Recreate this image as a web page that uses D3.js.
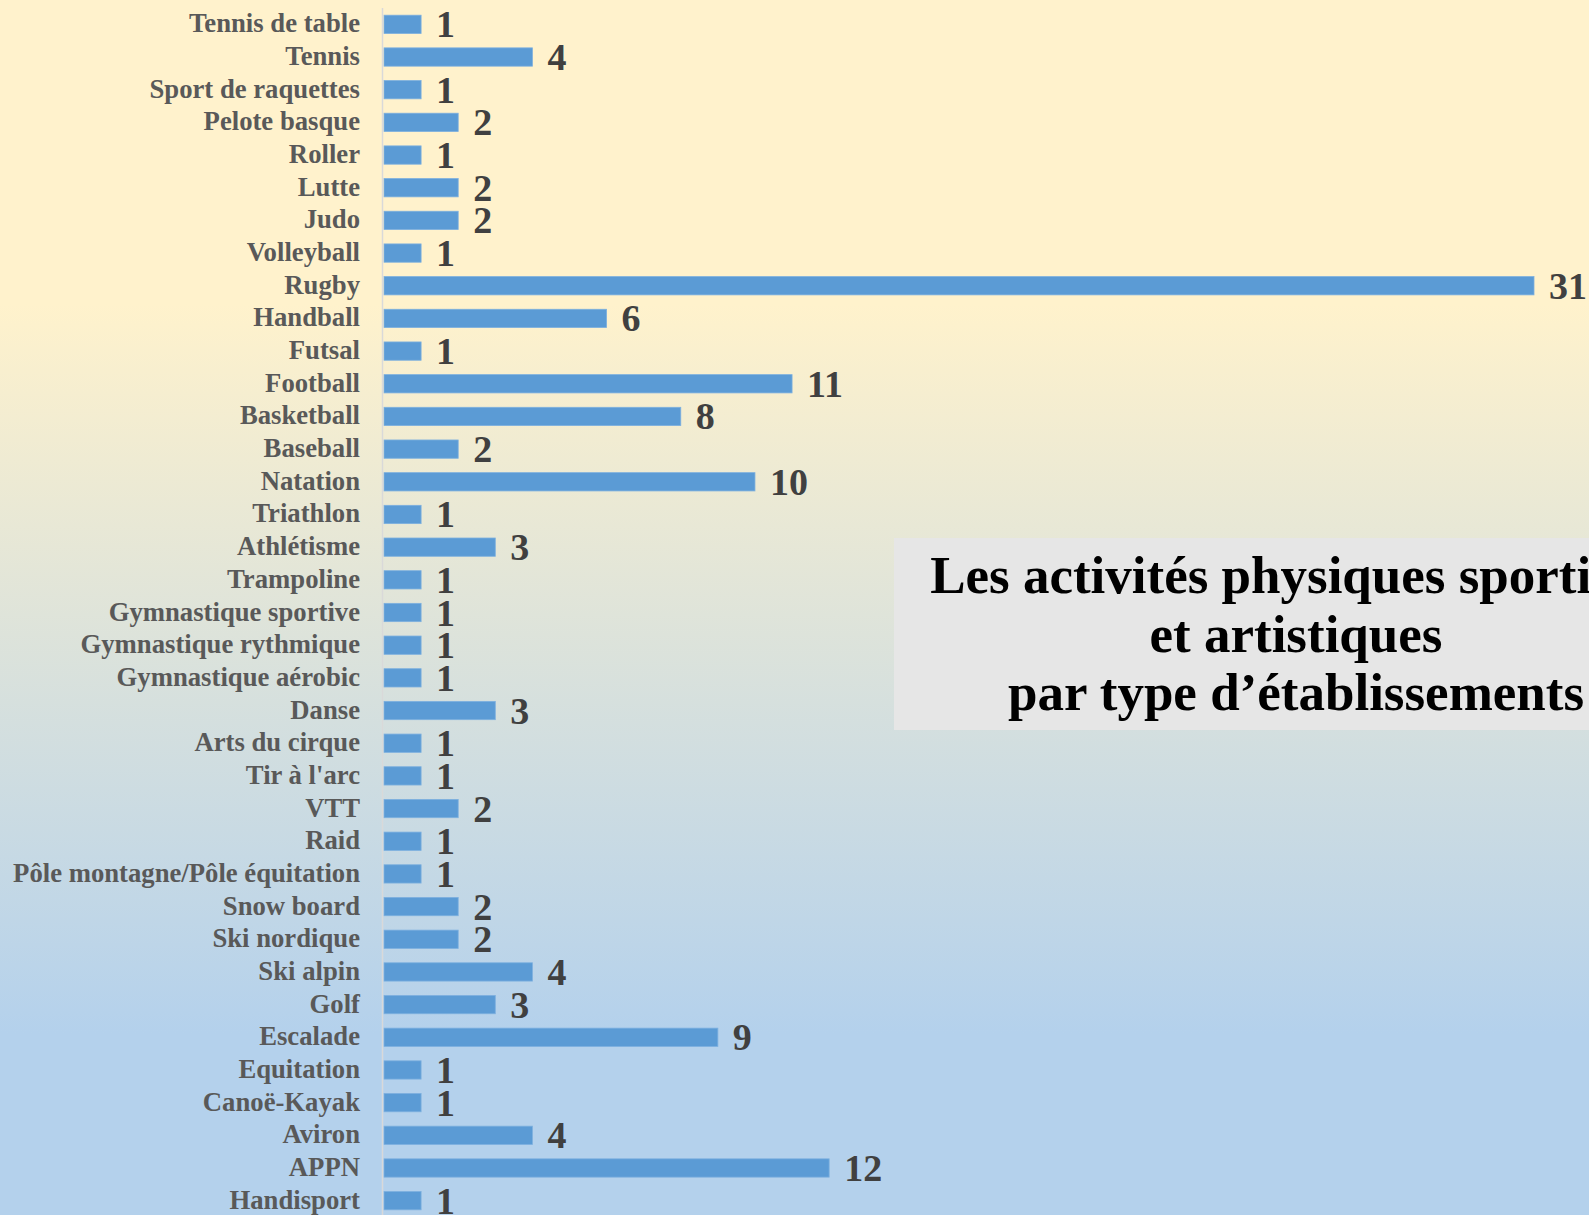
<!DOCTYPE html>
<html>
<head>
<meta charset="utf-8">
<script src="https://cdn.jsdelivr.net/npm/d3@7.9.0/dist/d3.min.js"></script>
<style>
  html, body { margin: 0; padding: 0; overflow: hidden; }
  svg { display: block; }
</style>
</head>
<body>
<svg id="viz"></svg>
<script>
const W = 1589;
const H = 1215;

// Data
const categories = [
  "Tennis de table", "Tennis", "Sport de raquettes", "Pelote basque", "Roller",
  "Lutte", "Judo", "Volleyball", "Rugby", "Handball", "Futsal", "Football",
  "Basketball", "Baseball", "Natation", "Triathlon", "Athlétisme", "Trampoline",
  "Gymnastique sportive", "Gymnastique rythmique", "Gymnastique aérobic", "Danse",
  "Arts du cirque", "Tir à l'arc", "VTT", "Raid", "Pôle montagne/Pôle équitation",
  "Snow board", "Ski nordique", "Ski alpin", "Golf", "Escalade", "Equitation",
  "Canoë-Kayak", "Aviron", "APPN", "Handisport"
];
const values = [
  1, 4, 1, 2, 1,
  2, 2, 1, 31, 6, 1, 11,
  8, 2, 10, 1, 3, 1,
  1, 1, 1, 3,
  1, 1, 2, 1, 1,
  2, 2, 4, 3, 9, 1,
  1, 4, 12, 1
];
const titleLines = [
  "Les activités physiques sportives",
  "et artistiques",
  "par type d’établissements"
];

const rows = categories.map((c, i) => ({ name: c, value: values[i] }));

const svg = d3.select("#viz").attr("width", W).attr("height", H);

// Background gradient
const defs = svg.append("defs");
const grad = defs.append("linearGradient")
  .attr("id", "bg")
  .attr("x1", 0).attr("y1", 0).attr("x2", 0).attr("y2", 1);
grad.append("stop").attr("offset", "0%").attr("stop-color", "#FFF2CC");
grad.append("stop").attr("offset", "25%").attr("stop-color", "#FFF2CC");
grad.append("stop").attr("offset", "85%").attr("stop-color", "#B4D1EC");
grad.append("stop").attr("offset", "100%").attr("stop-color", "#B4D1EC");

svg.append("rect")
  .attr("width", W).attr("height", H)
  .attr("fill", "url(#bg)");

// Scales
const x = d3.scaleLinear().domain([0, 31]).range([384, 1534]);
const y = d3.scaleBand()
  .domain(categories)
  .range([8, 1217])
  .paddingInner(0.44)
  .paddingOuter(0.22);

// Bars
svg.append("g")
  .selectAll("rect")
  .data(rows)
  .join("rect")
  .attr("x", x(0))
  .attr("y", (d) => y(d.name))
  .attr("width", (d) => x(d.value) - x(0))
  .attr("height", y.bandwidth())
  .attr("fill", "#5B9BD5")
  .attr("stroke", "#7DB0DF")
  .attr("stroke-width", 0.8);

// Axis line
svg.append("line")
  .attr("x1", 382.5).attr("x2", 382.5)
  .attr("y1", 8).attr("y2", H)
  .attr("stroke", "#d9d9d9")
  .attr("stroke-width", 1.5);

// Category labels
svg.append("g")
  .selectAll("text")
  .data(rows)
  .join("text")
  .attr("x", 360)
  .attr("y", (d) => y(d.name) + y.bandwidth() / 2 + 8)
  .attr("text-anchor", "end")
  .attr("font-family", "'Liberation Serif', 'Times New Roman', serif")
  .attr("font-weight", "bold")
  .attr("font-size", "26.7px")
  .attr("fill", "#595959")
  .text((d) => d.name);

// Value labels
svg.append("g")
  .selectAll("text")
  .data(rows)
  .join("text")
  .attr("x", (d) => x(d.value) + 15)
  .attr("y", (d) => y(d.name) + y.bandwidth() / 2 + 13)
  .attr("font-family", "'Liberation Serif', 'Times New Roman', serif")
  .attr("font-weight", "bold")
  .attr("font-size", "38px")
  .attr("fill", "#404040")
  .text((d) => d.value);

// Title box
const tg = svg.append("g");
tg.append("rect")
  .attr("x", 894).attr("y", 538)
  .attr("width", 700).attr("height", 192)
  .attr("fill", "#E6E6E6");
tg.selectAll("text")
  .data(titleLines)
  .join("text")
  .attr("x", 1296)
  .attr("y", (_, i) => 593 + i * 58.5)
  .attr("text-anchor", "middle")
  .attr("font-family", "'Liberation Serif', 'Times New Roman', serif")
  .attr("font-weight", "bold")
  .attr("font-size", "53px")
  .attr("fill", "#000")
  .text((d) => d);
</script>
</body>
</html>
